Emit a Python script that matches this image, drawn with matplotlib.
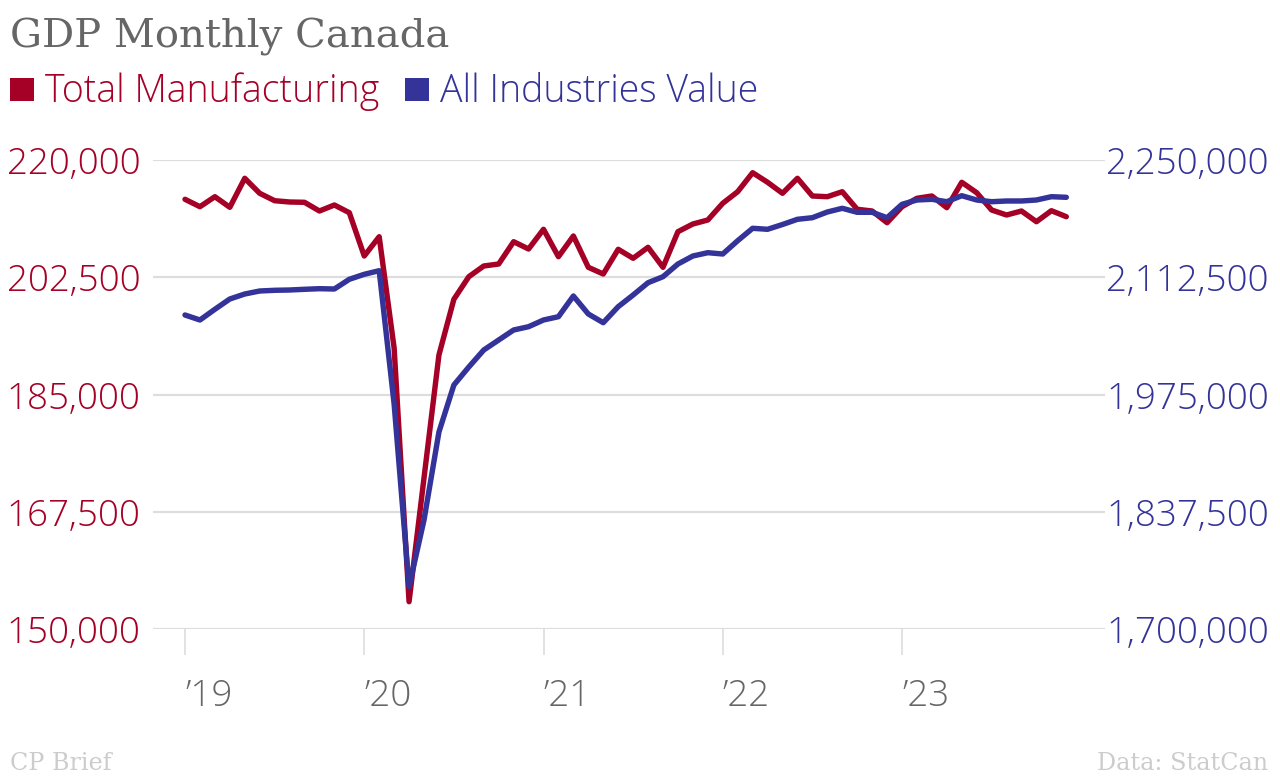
import matplotlib
matplotlib.use("Agg")
import matplotlib.pyplot as plt
from matplotlib.ticker import FuncFormatter, FixedLocator
from matplotlib.patches import Rectangle

# ---- data (monthly, Jan 2019 - Dec 2023) ----
months = list(range(60))
manufacturing = [
    214134, 213030, 214522, 212940, 217269, 215030, 213925, 213731, 213687, 212388, 213284, 212134,
    205672, 208552, 191940, 154075, 172539, 190900, 199210, 202583, 204180, 204478, 207806, 206717,
    209657, 205568, 208657, 203985, 202985, 206672, 205329, 206970, 203985, 209299, 210448, 211045,
    213538, 215269, 218105, 216672, 215030, 217269, 214627, 214522, 215269, 212642, 212388, 210642,
    213030, 214284, 214627, 212881, 216672, 215120, 212537, 211791, 212388, 210791, 212433, 211538,
]
all_industries = [
    2068232, 2062368, 2074916, 2086995, 2092858, 2096376, 2097197, 2097549, 2098370, 2099074, 2098722, 2110097,
    2115961, 2120182, 1963861, 1749610, 1827828, 1931000, 1986143, 2007254, 2027187, 2038914, 2050641, 2054511,
    2062368, 2066238, 2090513, 2069405, 2059203, 2077965, 2091686, 2106110, 2113146, 2128039, 2137421, 2141291,
    2139766, 2155364, 2169905, 2168732, 2174361, 2180459, 2182335, 2189020, 2193359, 2188668, 2188668, 2182335,
    2198051, 2203092, 2203912, 2201098, 2208134, 2203092, 2201098, 2201919, 2201919, 2203092, 2206962, 2206258,
]
year_ticks = [0, 12, 24, 36, 48]
year_labels = ["\u201919", "\u201920", "\u201921", "\u201922", "\u201923"]
left_ticks = [150000, 167500, 185000, 202500, 220000]
right_ticks = [1700000, 1837500, 1975000, 2112500, 2250000]
series_names = ["Total Manufacturing", "All Industries Value"]

RED = "#a50026"
BLUE = "#333399"
GRID = "#dddddd"
GREY = "#666666"
TICK_FS = 26.5

W, H = 1280, 776
fig = plt.figure(figsize=(W / 100, H / 100), dpi=100)
fig.patch.set_facecolor("white")

x_left_px, x_right_px = 153, 1105
y_top_px, y_bot_px = 160, 629
ax = fig.add_axes([x_left_px / W, 1 - y_bot_px / H,
                   (x_right_px - x_left_px) / W, (y_bot_px - y_top_px) / H])
ax2 = ax.twinx()

px_per_month = (902 - 185) / 48.0
ax.set_xlim((x_left_px - 185) / px_per_month, (x_right_px - 185) / px_per_month)
ax.set_ylim(left_ticks[0], left_ticks[-1])
ax2.set_ylim(right_ticks[0], right_ticks[-1])

ax.plot(months, manufacturing, color=RED, lw=3.9, solid_joinstyle="round",
        solid_capstyle="round", clip_on=False, zorder=3)
ax2.plot(months, all_industries, color=BLUE, lw=3.9, solid_joinstyle="round",
         solid_capstyle="round", clip_on=False, zorder=3)

for a in (ax, ax2):
    for s in a.spines.values():
        s.set_visible(False)

fmt = FuncFormatter(lambda v, p: f"{int(round(v)):,}")
ax.yaxis.set_major_locator(FixedLocator(left_ticks))
ax.yaxis.set_major_formatter(fmt)
ax2.yaxis.set_major_locator(FixedLocator(right_ticks))
ax2.yaxis.set_major_formatter(fmt)

ax.tick_params(axis="y", length=0, pad=9, labelcolor=RED)
ax2.tick_params(axis="y", length=0, pad=1, labelcolor=BLUE)
for lab in ax.get_yticklabels() + ax2.get_yticklabels():
    lab.set_fontfamily("Open Sans"); lab.set_fontsize(TICK_FS); lab.set_fontweight("light")

ax.yaxis.grid(True, color=GRID, lw=1.6)
ax.set_axisbelow(True)

ax.set_xticks(year_ticks)
ax.set_xticklabels(year_labels)
ax.tick_params(axis="x", length=19, width=1.2, color=GRID, pad=16, labelcolor=GREY)
for lab in ax.get_xticklabels():
    lab.set_fontfamily("Open Sans"); lab.set_fontsize(TICK_FS); lab.set_fontweight("light")
    lab.set_horizontalalignment("left")

# Title
fig.text(10 / W, 1 - 47 / H, "GDP Monthly Canada", family="DejaVu Serif",
         fontsize=28.9, color=GREY, ha="left", va="baseline")

# Legend
leg_y = 1 - 102 / H
fig.patches.append(Rectangle((10 / W, 1 - 101 / H), 24 / W, 23 / H, transform=fig.transFigure,
                             facecolor=RED, edgecolor="none"))
fig.text(45 / W, leg_y, series_names[0], family="Open Sans", fontweight="light",
         fontsize=27, color=RED, ha="left", va="baseline")
fig.patches.append(Rectangle((405 / W, 1 - 101 / H), 24 / W, 23 / H, transform=fig.transFigure,
                             facecolor=BLUE, edgecolor="none"))
fig.text(440 / W, leg_y, series_names[1], family="Open Sans", fontweight="light",
         fontsize=27, color=BLUE, ha="left", va="baseline")

# Footer
fig.text(10 / W, 1 - 770 / H, "CP Brief", family="DejaVu Serif", fontsize=17.2,
         color="#cccccc", ha="left", va="baseline")
fig.text(1268 / W, 1 - 770 / H, "Data: StatCan", family="DejaVu Serif", fontsize=17.2,
         color="#cccccc", ha="right", va="baseline")

fig.savefig("out.png", dpi=100, facecolor="white")
